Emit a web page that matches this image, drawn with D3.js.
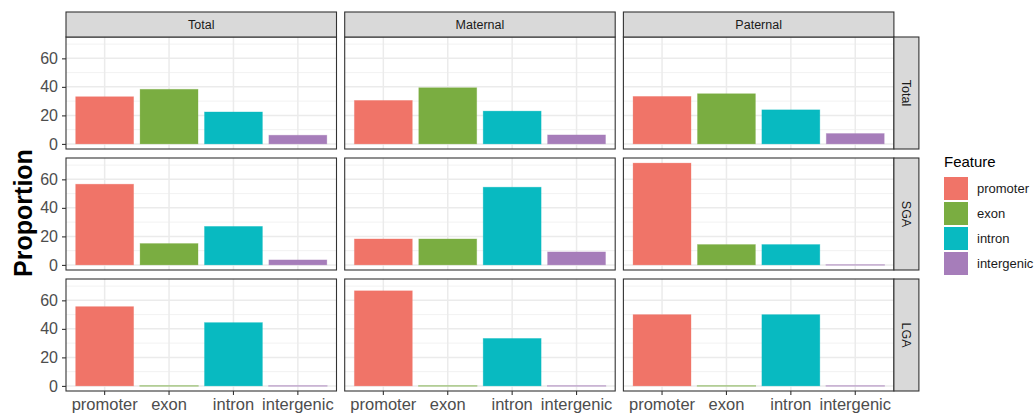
<!DOCTYPE html>
<html>
<head>
<meta charset="utf-8">
<script src="https://cdn.jsdelivr.net/npm/d3@7"></script>
<style>
  html, body { margin: 0; padding: 0; background: #fff; }
  svg { display: block; font-family: "Liberation Sans", Arial, sans-serif; }
</style>
</head>
<body>
<svg id="chart" width="1035" height="416"></svg>
<script>
// Genomic feature categories (x axis) and facet labels
const features = ["promoter", "exon", "intron", "intergenic"];
const colGroups = ["Total", "Maternal", "Paternal"];
const rowGroups = ["Total", "SGA", "LGA"];
const yTicks = [0, 20, 40, 60];

// Proportion (%) per feature, one array per facet (row_column)
const total_total = [33.1, 38.3, 22.4, 6.1];
const total_maternal = [30.5, 39.4, 23.0, 6.3];
const total_paternal = [33.3, 35.2, 23.9, 7.3];
const sga_total = [56.6, 15.0, 27.0, 3.5];
const sga_maternal = [18.2, 18.2, 54.5, 9.1];
const sga_paternal = [71.4, 14.3, 14.3, 0];
const lga_total = [55.6, 0, 44.4, 0];
const lga_maternal = [66.7, 0, 33.3, 0];
const lga_paternal = [50.0, 0, 50.0, 0];

const panelValues = [
  [total_total, total_maternal, total_paternal],
  [sga_total, sga_maternal, sga_paternal],
  [lga_total, lga_maternal, lga_paternal]
];

const fillColors = ["#F07468", "#7AAD41", "#08BAC1", "#A67DBA"];

// Layout
const plotLeft = 66, plotTop = 37;
const panelW = 270.5, panelH = 112;
const gapX = 8.2, gapY = 9;
const stripH = 25, stripW = 25;

const svg = d3.select("#chart");

const color = d3.scaleOrdinal().domain(features).range(fillColors);

const x = d3.scaleBand().domain(features).range([0, panelW])
  .paddingInner(0.1).paddingOuter(0.15);

const allVals = panelValues.flat(2);
const yMax = d3.max(allVals);
const y = d3.scaleLinear()
  .domain([-0.05 * yMax, yMax * 1.05])
  .range([panelH, 0]);

const minorTicks = [10, 30, 50, 70];

rowGroups.forEach((rowName, r) => {
  colGroups.forEach((colName, c) => {
    const px = plotLeft + c * (panelW + gapX);
    const py = plotTop + r * (panelH + gapY);
    const g = svg.append("g").attr("transform", `translate(${px},${py})`);

    g.append("rect").attr("width", panelW).attr("height", panelH).attr("fill", "#fff");

    // minor grid
    g.selectAll(".minor").data(minorTicks.filter(v => y(v) >= 0)).join("line")
      .attr("x1", 0).attr("x2", panelW)
      .attr("y1", d => y(d)).attr("y2", d => y(d))
      .attr("stroke", "#F2F2F2").attr("stroke-width", 1);
    // major grid
    g.selectAll(".major").data(yTicks).join("line")
      .attr("x1", 0).attr("x2", panelW)
      .attr("y1", d => y(d)).attr("y2", d => y(d))
      .attr("stroke", "#EBEBEB").attr("stroke-width", 1.5);
    g.selectAll(".vgrid").data(features).join("line")
      .attr("x1", d => x(d) + x.bandwidth() / 2).attr("x2", d => x(d) + x.bandwidth() / 2)
      .attr("y1", 0).attr("y2", panelH)
      .attr("stroke", "#EBEBEB").attr("stroke-width", 1.5);

    // bars (zero-valued bars still show their outline as a thin line)
    const vals = panelValues[r][c];
    g.selectAll(".bar").data(features.map((f, i) => ({ f, v: vals[i] }))).join("rect")
      .attr("x", d => x(d.f))
      .attr("width", x.bandwidth())
      .attr("y", d => y(d.v))
      .attr("height", d => Math.max(0.01, y(0) - y(d.v)))
      .attr("fill", d => color(d.f))
      .attr("stroke", d => color(d.f))
      .attr("stroke-opacity", d => d.v === 0 ? 0.75 : 0.35)
      .attr("stroke-width", d => d.v === 0 ? 1.2 : 0.8);

    // panel border
    g.append("rect").attr("width", panelW).attr("height", panelH)
      .attr("fill", "none").attr("stroke", "#333").attr("stroke-width", 1.1);

    // y axis on first column
    if (c === 0) {
      const ya = g.append("g").call(d3.axisLeft(y).tickValues(yTicks).tickSize(4).tickPadding(4));
      ya.select(".domain").remove();
      ya.selectAll(".tick line").attr("stroke", "#333").attr("stroke-width", 1.1);
      ya.selectAll(".tick text").attr("fill", "#4D4D4D")
        .style("font-size", "16px").style("font-family", "Liberation Sans, Arial, sans-serif");
    }

    // x axis on bottom row
    if (r === rowGroups.length - 1) {
      const xa = g.append("g").attr("transform", `translate(0,${panelH})`)
        .call(d3.axisBottom(x).tickSize(4).tickPadding(3.5));
      xa.select(".domain").remove();
      xa.selectAll(".tick line").attr("stroke", "#333").attr("stroke-width", 1.1);
      xa.selectAll(".tick text").attr("fill", "#4D4D4D")
        .style("font-size", "16.5px").style("font-family", "Liberation Sans, Arial, sans-serif");
    }

    // top strips
    if (r === 0) {
      const s = g.append("g").attr("transform", `translate(0,${-stripH})`);
      s.append("rect").attr("width", panelW).attr("height", stripH)
        .attr("fill", "#D9D9D9").attr("stroke", "#333").attr("stroke-width", 1.1);
      s.append("text").attr("x", panelW / 2).attr("y", stripH / 2)
        .attr("text-anchor", "middle").attr("dominant-baseline", "central")
        .attr("fill", "#1A1A1A").style("font-size", "12.5px").text(colName);
    }

    // right strips
    if (c === colGroups.length - 1) {
      const s = g.append("g").attr("transform", `translate(${panelW},0)`);
      s.append("rect").attr("width", stripW).attr("height", panelH)
        .attr("fill", "#D9D9D9").attr("stroke", "#333").attr("stroke-width", 1.1);
      s.append("text")
        .attr("transform", `translate(${stripW / 2},${panelH / 2}) rotate(90)`)
        .attr("text-anchor", "middle").attr("dominant-baseline", "central")
        .attr("fill", "#1A1A1A").style("font-size", "12.5px").text(rowName);
    }
  });
});

// y axis title
const plotMidY = plotTop + (3 * panelH + 2 * gapY) / 2;
svg.append("text")
  .attr("transform", `translate(32,${plotMidY - 1}) rotate(-90)`)
  .attr("text-anchor", "middle")
  .attr("fill", "#000").style("font-size", "25px").style("font-weight", "bold")
  .text("Proportion");

// legend
const lg = svg.append("g").attr("transform", "translate(944,0)");
lg.append("text").attr("x", 0).attr("y", 167)
  .attr("fill", "#000").style("font-size", "15px").text("Feature");
features.forEach((f, i) => {
  const ky = 177 + i * 25;
  lg.append("rect").attr("x", 0).attr("y", ky).attr("width", 24).attr("height", 23)
    .attr("fill", color(f));
  lg.append("text").attr("x", 33).attr("y", ky + 11.5)
    .attr("dominant-baseline", "central")
    .attr("fill", "#1A1A1A").style("font-size", "13px").text(f);
});
</script>
</body>
</html>
